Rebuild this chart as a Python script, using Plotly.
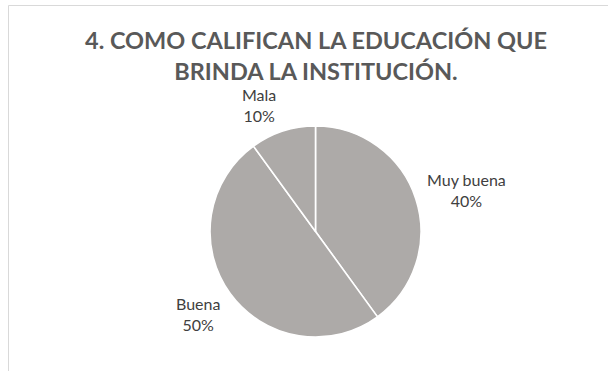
import math
import plotly.graph_objects as go

categories = ["Muy buena", "Buena", "Mala"]
values = [40, 50, 10]
title_text = "4. COMO CALIFICAN LA EDUCACIÓN QUE<br>BRINDA LA INSTITUCIÓN."

W, H = 608, 371
cx, cy, R = 315.5, 231.5, 105.5
# label placement: radial distance factor and angular nudge (degrees)
label_dist = [1.48, 1.365, 1.31]
label_shift = [2.6, 1.0, -6.0]

fig = go.Figure(go.Pie(
    labels=categories, values=values, sort=False, direction="clockwise", rotation=0,
    textinfo="none", hoverinfo="label+percent",
    marker=dict(colors=["#ADAAA8"] * 3, line=dict(color="white", width=1.6)),
    domain=dict(x=[(cx - R) / W, (cx + R) / W], y=[1 - (cy + R) / H, 1 - (cy - R) / H]),
    showlegend=False,
))

total = sum(values)
cum = 0
annotations = []
for lab, v, k, s in zip(categories, values, label_dist, label_shift):
    a = math.radians((cum + v / 2) / total * 360 + s)
    cum += v
    px = cx + k * R * math.sin(a)
    py = cy - k * R * math.cos(a)
    annotations.append(dict(
        x=px / W, y=1 - py / H, xref="paper", yref="paper", showarrow=False,
        text=f"{lab}<br>{round(v / total * 100)}%", align="center",
        font=dict(family="Lato", size=16, color="#404040"),
        xanchor="center", yanchor="middle",
    ))

annotations.append(dict(
    x=316 / W, y=1 - 55 / H, xref="paper", yref="paper", showarrow=False,
    text=f"<b>{title_text}</b>", align="center",
    font=dict(family="Lato", size=23.5, color="#595959"),
    xanchor="center", yanchor="middle",
))

fig.update_layout(
    width=W, height=H, margin=dict(l=0, r=0, t=0, b=0),
    paper_bgcolor="white", plot_bgcolor="white",
    annotations=annotations,
    shapes=[dict(type="rect", xref="paper", yref="paper",
                 x0=8.5 / W, x1=1.2, y0=-0.2, y1=1 - 5.5 / H,
                 line=dict(color="#D9D9D9", width=1), fillcolor="rgba(0,0,0,0)")],
)
fig.write_html("out.html")
